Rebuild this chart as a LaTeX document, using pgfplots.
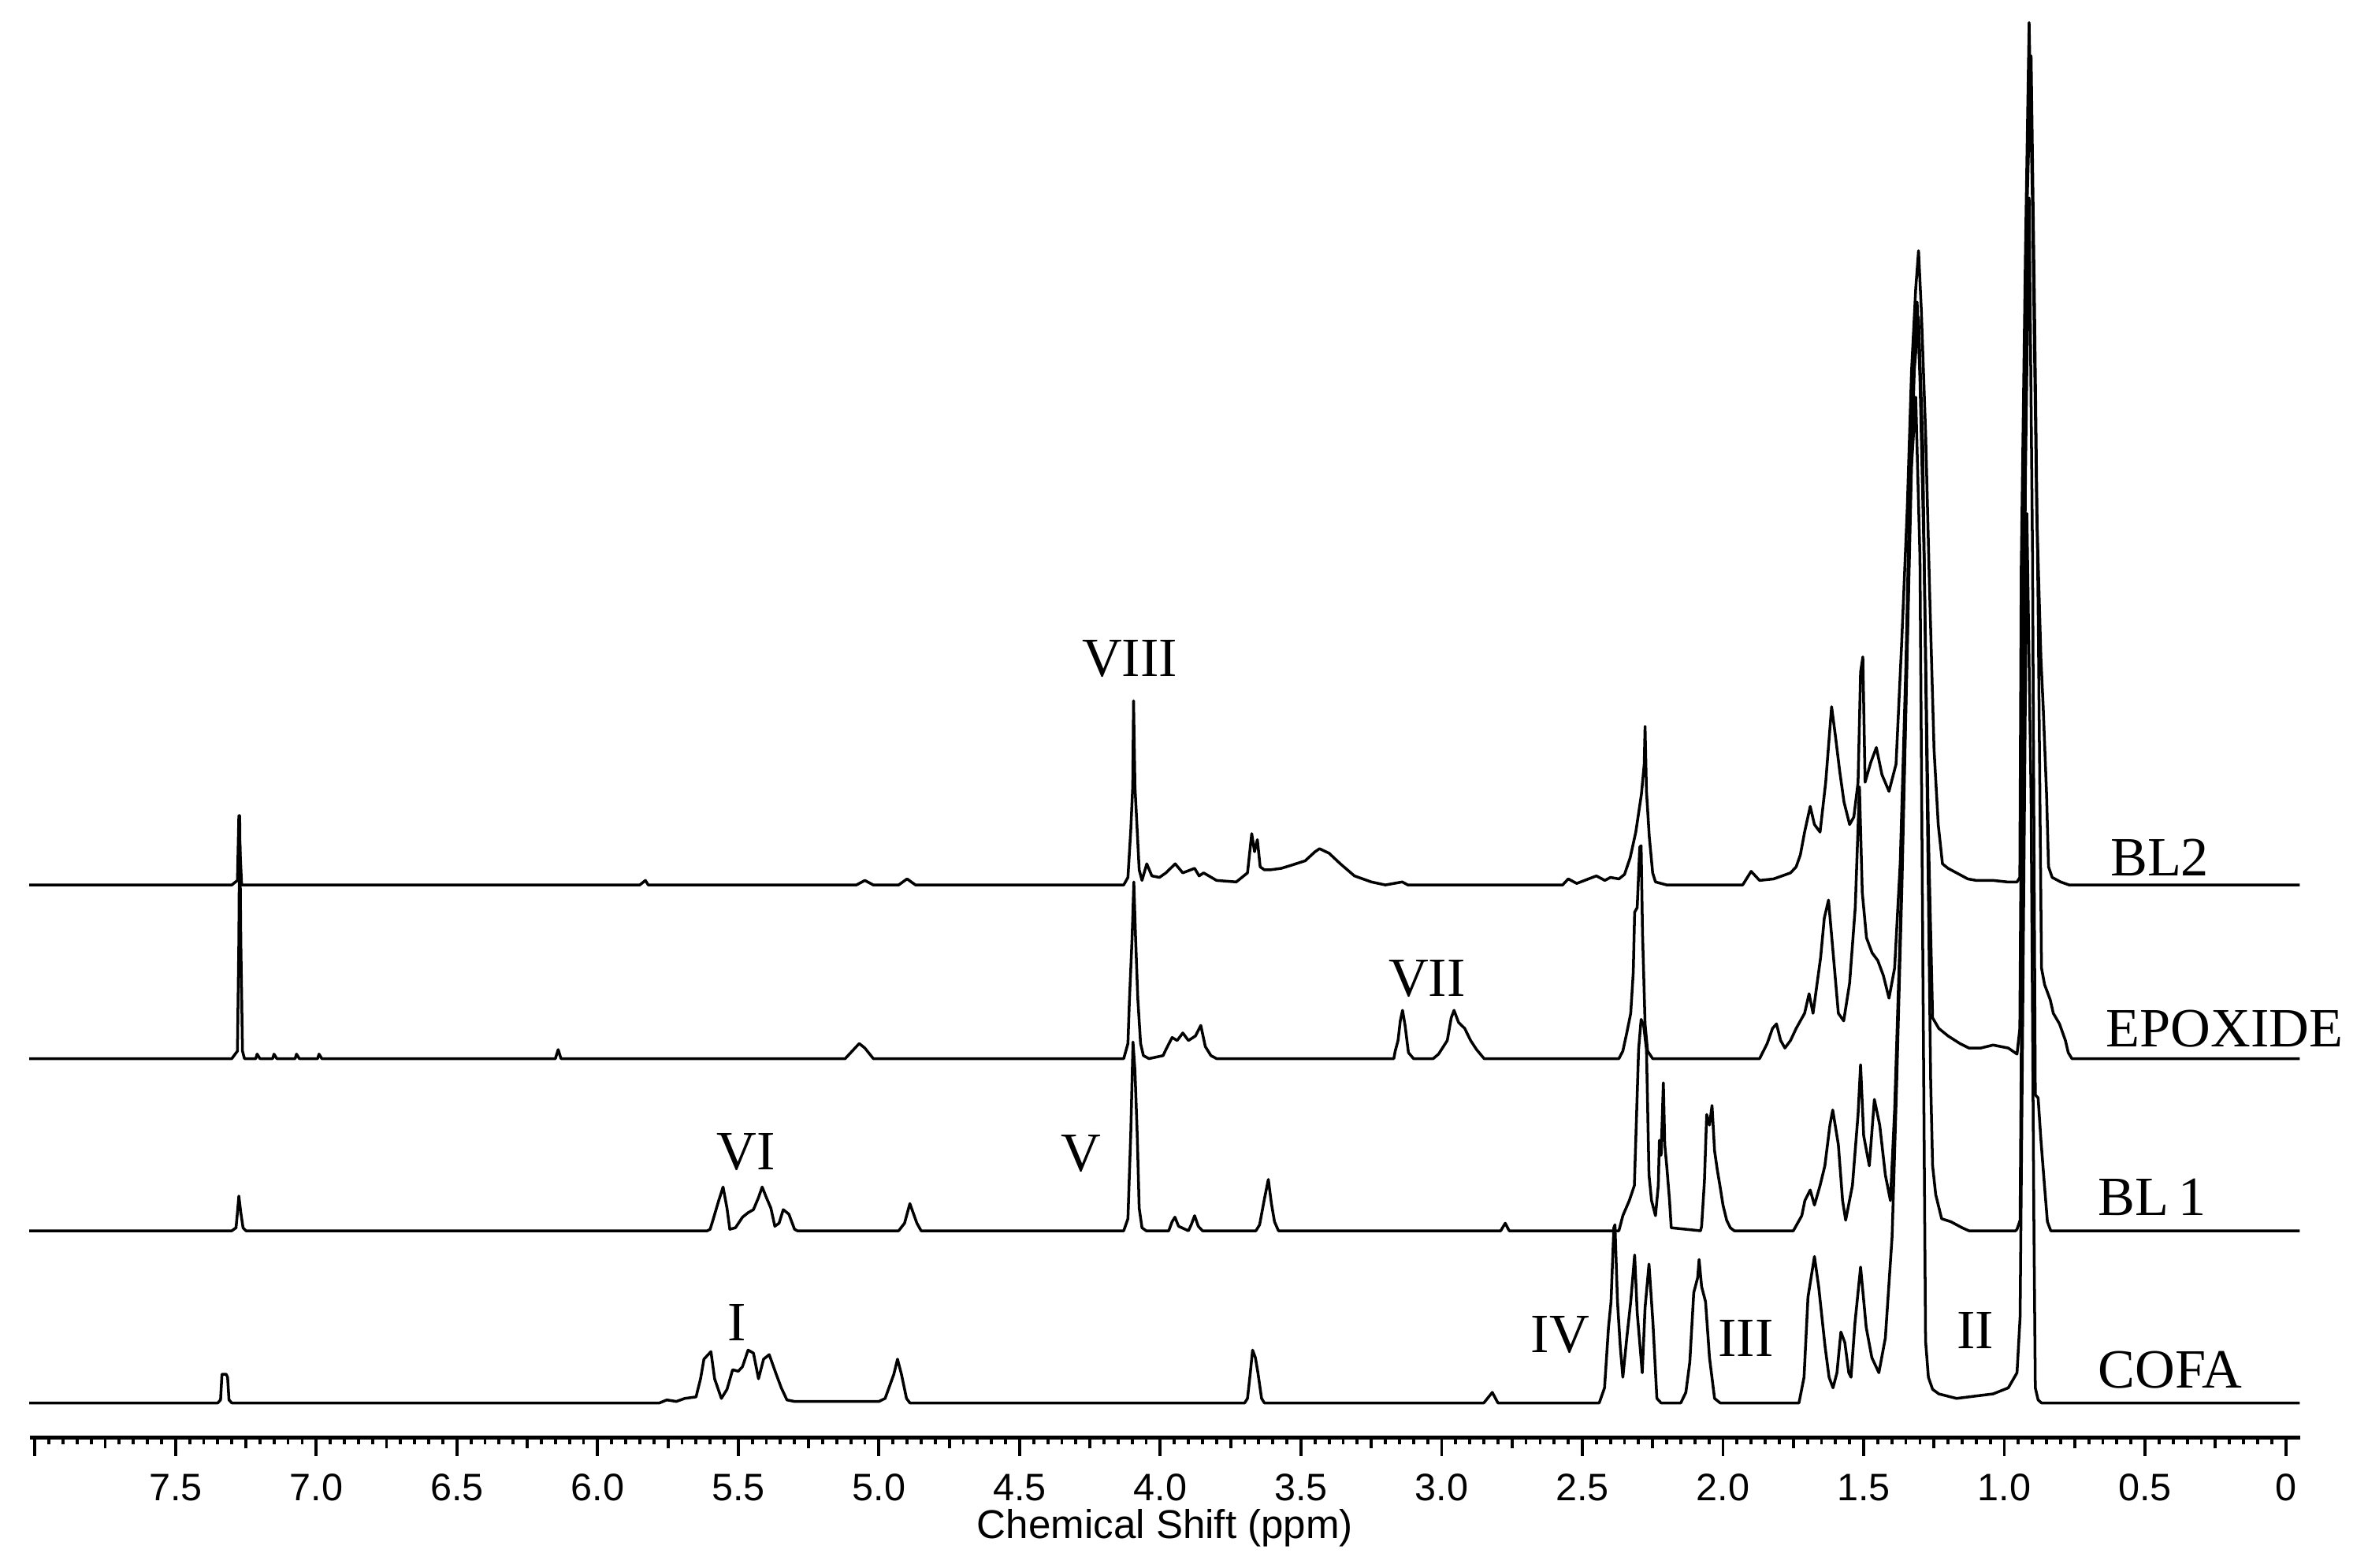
\documentclass[border=0pt]{standalone}
\usepackage{fontspec}
\setmainfont{Liberation Serif}
\newfontfamily\arialf{Liberation Sans}
\usepackage{pgfplots}
\pgfplotsset{compat=1.18}
\begin{document}
\begin{tikzpicture}
\begin{axis}[
  scale only axis, width=450.9pt, height=285.6pt,
  x dir=reverse, xmin=-0.051, xmax=8.017, ymin=86, ymax=1038,
  axis x line*=bottom, hide y axis,
  axis line style={line width=0.8pt},
  xtick={0,0.5,...,8},
  xticklabels={0,0.5,1.0,1.5,2.0,2.5,3.0,3.5,4.0,4.5,5.0,5.5,6.0,6.5,7.0,7.5,},
  minor xtick={0,0.05,...,8},
  extra x ticks={0.25,0.75,...,7.75}, extra x tick labels={},
  extra x tick style={major tick length=2.1pt},
  tick align=outside, major tick length=3.6pt, minor tick length=1.3pt,
  tick style={line width=0.6pt, black},
  xticklabel style={font=\arialf\fontsize{7.6}{9}\selectfont, inner sep=1pt, yshift=-2.4pt},
  xlabel={Chemical Shift (ppm)},
  xlabel style={font=\arialf\fontsize{8}{9.6}\selectfont, inner sep=0pt, at={(axis description cs:0.5,0)}, anchor=center, yshift=-18pt},
  clip=false,
  spec/.style={black, line width=0.55pt, line join=round, mark=none},
]
% BL2
\addplot[spec] table[x=x, y expr=\thisrow{h}+452] {
x h
8.02 0
7.30 0
7.28 3
7.275 46
7.27 20
7.265 0
5.85 0
5.83 3
5.82 0
5.08 0
5.05 3
5.02 0
4.93 0
4.90 4
4.87 0
4.13 0
4.115 5
4.105 36
4.098 65
4.095 122
4.09 65
4.082 36
4.075 10
4.065 3
4.048 14
4.03 6
4.003 5
3.98 8
3.947 14
3.92 8
3.878 11
3.862 6
3.846 8
3.80 3
3.73 2
3.69 8
3.675 34
3.665 22
3.655 30
3.645 12
3.63 10
3.61 10
3.57 11
3.535 13
3.485 16
3.45 22
3.434 24
3.40 21
3.36 14
3.31 6
3.25 2
3.20 0
3.14 2
3.12 0
2.57 0
2.55 4
2.52 1
2.45 6
2.42 3
2.40 5
2.37 4
2.35 7
2.33 18
2.31 35
2.29 60
2.28 80
2.277 105
2.272 62
2.262 32
2.25 8
2.24 2
2.20 0
1.93 0
1.90 9
1.87 3
1.82 4
1.76 8
1.74 12
1.725 20
1.71 35
1.69 52
1.675 40
1.655 35
1.635 68
1.614 118
1.60 98
1.585 75
1.57 55
1.55 40
1.535 45
1.52 68
1.511 141
1.503 151
1.495 68
1.475 81
1.455 91
1.435 73
1.41 62
1.385 80
1.365 160
1.345 250
1.33 340
1.315 395
1.305 420
1.295 380
1.28 300
1.265 190
1.25 90
1.235 40
1.22 14
1.20 11
1.17 8
1.13 4
1.10 3
1.04 3
0.99 2
0.955 2
0.945 5
0.94 210
0.925 420
0.912 571
0.90 450
0.885 247
0.87 150
0.862 118
0.85 60
0.843 12
0.83 5
0.80 2
0.77 0
-0.05 0
};
% EPOXIDE
\addplot[spec] table[x=x, y expr=\thisrow{h}+337] {
x h
8.02 0
7.30 0
7.28 5
7.275 78
7.272 161
7.268 78
7.262 5
7.255 0
7.215 0
7.21 3
7.20 0
7.155 0
7.15 3
7.14 0
7.075 0
7.07 3
7.06 0
6.995 0
6.99 3
6.98 0
6.15 0
6.14 6
6.13 0
5.12 0
5.09 6
5.07 10
5.05 7
5.02 0
4.13 0
4.115 10
4.11 37
4.10 81
4.094 117
4.088 81
4.08 40
4.07 10
4.06 2
4.04 0
3.99 2
3.98 6
3.958 14
3.94 12
3.92 17
3.90 12
3.875 15
3.856 22
3.84 8
3.82 2
3.80 0
3.17 0
3.165 5
3.155 12
3.147 25
3.139 32
3.13 22
3.118 4
3.10 0
3.03 0
3.011 3
2.98 12
2.966 27
2.956 32
2.94 24
2.918 20
2.897 12
2.876 6
2.849 0
2.37 0
2.356 5
2.342 17
2.328 30
2.319 57
2.314 97
2.305 100
2.296 140
2.291 141
2.286 83
2.277 23
2.268 5
2.25 0
1.87 0
1.843 10
1.824 20
1.81 23
1.795 12
1.78 7
1.76 12
1.74 20
1.71 30
1.694 43
1.68 30
1.653 67
1.64 93
1.625 105
1.61 73
1.59 30
1.571 25
1.55 50
1.53 100
1.515 180
1.505 110
1.49 80
1.47 70
1.45 65
1.43 55
1.41 40
1.39 60
1.37 130
1.35 260
1.335 390
1.32 470
1.31 501
1.30 450
1.285 330
1.27 150
1.255 27
1.233 20
1.20 15
1.158 10
1.126 7
1.084 7
1.04 9
0.986 7
0.955 3
0.945 20
0.935 300
0.92 560
0.905 664
0.893 500
0.88 300
0.868 60
0.857 49
0.837 39
0.826 30
0.804 23
0.783 12
0.773 4
0.76 0
-0.05 0
};
% BL1
\addplot[spec] table[x=x, y expr=\thisrow{h}+223] {
x h
8.02 0
7.30 0
7.285 2
7.28 12
7.275 23
7.268 12
7.26 2
7.25 0
5.61 0
5.60 1
5.59 7
5.571 19
5.554 29
5.54 15
5.53 1
5.51 2
5.485 9
5.465 12
5.446 14
5.428 22
5.415 29
5.40 22
5.384 15
5.37 3
5.355 5
5.34 14
5.32 11
5.30 1
5.29 0
4.93 0
4.909 5
4.89 18
4.865 5
4.85 0
4.13 0
4.115 8
4.105 64
4.097 125
4.09 106
4.082 64
4.075 15
4.065 2
4.05 0
3.97 0
3.958 6
3.948 9
3.935 3
3.90 0
3.89 4
3.878 10
3.865 3
3.85 0
3.66 0
3.647 4
3.63 21
3.616 34
3.605 18
3.594 6
3.58 0
2.79 0
2.774 5
2.76 0
2.37 0
2.356 10
2.333 20
2.315 30
2.305 90
2.30 120
2.291 140
2.282 136
2.272 120
2.268 83
2.263 37
2.254 20
2.24 10
2.23 30
2.226 60
2.22 50
2.212 98
2.207 57
2.20 43
2.19 20
2.184 2
2.08 0
2.076 3
2.066 33
2.058 77
2.048 70
2.039 83
2.03 53
2.02 40
2.011 30
2.00 17
1.987 7
1.974 2
1.96 0
1.75 0
1.72 10
1.709 20
1.69 27
1.675 17
1.655 30
1.638 43
1.62 70
1.61 80
1.59 57
1.575 20
1.564 7
1.54 30
1.52 77
1.511 110
1.50 63
1.48 43
1.462 87
1.443 70
1.423 37
1.405 20
1.39 80
1.37 200
1.35 350
1.335 480
1.32 570
1.305 605
1.29 520
1.275 300
1.262 100
1.255 43
1.244 24
1.223 8
1.19 6
1.15 2
1.126 0
0.96 0
0.955 1
0.944 7
0.935 250
0.925 500
0.912 684
0.90 450
0.89 90
0.88 88
0.87 60
0.857 29
0.847 6
0.835 0
-0.05 0
};
% COFA
\addplot[spec] table[x=x, y expr=\thisrow{h}+109] {
x h
8.02 0
7.35 0
7.34 2
7.335 19
7.32 19
7.315 17
7.31 2
7.30 0
5.78 0
5.754 2
5.72 1
5.69 3
5.65 4
5.634 16
5.622 29
5.597 34
5.584 16
5.56 3
5.54 9
5.52 22
5.50 21
5.485 24
5.465 35
5.446 33
5.428 16
5.41 29
5.39 32
5.365 19
5.347 10
5.327 2
5.30 1
5.10 1
5.00 1
4.978 3
4.947 19
4.934 29
4.92 19
4.902 3
4.89 0
3.70 0
3.69 3
3.68 20
3.672 35
3.662 30
3.653 20
3.64 3
3.63 0
2.85 0
2.82 7
2.80 0
2.44 0
2.421 10
2.407 50
2.398 67
2.388 116
2.384 118
2.375 67
2.365 37
2.356 17
2.342 43
2.328 67
2.314 98
2.305 60
2.296 40
2.287 20
2.277 63
2.263 92
2.249 53
2.235 3
2.22 0
2.15 0
2.132 7
2.118 27
2.104 73
2.09 83
2.085 95
2.076 77
2.062 67
2.048 30
2.03 3
2.01 0
1.73 0
1.712 17
1.698 70
1.675 97
1.66 77
1.637 37
1.623 17
1.609 10
1.595 20
1.581 47
1.567 40
1.553 20
1.545 17
1.531 53
1.511 90
1.491 50
1.471 30
1.446 20
1.423 43
1.399 110
1.383 210
1.364 343
1.345 500
1.33 620
1.315 666
1.30 560
1.29 300
1.28 41
1.27 17
1.255 9
1.233 6
1.17 3
1.04 6
0.986 10
0.955 20
0.944 57
0.935 250
0.92 589
0.905 400
0.895 118
0.89 10
0.88 2
0.868 0
-0.05 0
};
\begin{scope}[every node/.style={font=\fontsize{11}{13}\selectfont, inner sep=0pt}]
\node at (axis cs:4.109,602) {VIII};
\node at (axis cs:3.052,390) {VII};
\node at (axis cs:5.473,275) {VI};
\node at (axis cs:4.281,274) {V};
\node at (axis cs:5.505,162) {I};
\node at (axis cs:2.579,154) {IV};
\node at (axis cs:1.919,152) {III};
\node at (axis cs:1.103,157) {II};
\node at (axis cs:0.448,470) {BL2};
\node at (axis cs:0.217,357) {EPOXIDE};
\node at (axis cs:0.475,245) {BL\,1};
\node at (axis cs:0.411,131) {COFA};
\end{scope}
\path (axis cs:8.124,0) rectangle (axis cs:-0.2925,1038);
\end{axis}
\end{tikzpicture}
\end{document}
